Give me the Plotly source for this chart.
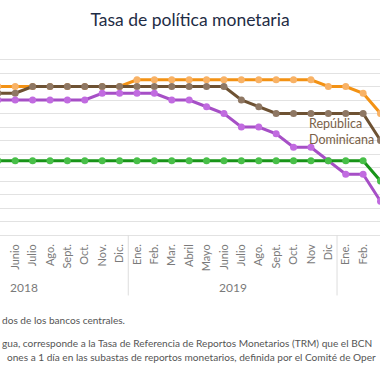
import plotly.graph_objects as go

# Month tick labels (May 2018 .. Mar 2020)
months = ["Mayo", "Junio", "Julio", "Ago.", "Sept.", "Oct.", "Nov.", "Dic.",
          "Ene.", "Feb.", "Mar.", "Abril", "Mayo", "Junio", "Julio", "Ago.", "Sept.", "Oct.", "Nov", "Dic",
          "Ene.", "Feb.", "Mar."]
years = ["2018", "2019"]
year_centers = [1.5, 13.5]      # centre month index of each year
year_bounds = [7.5, 19.5]       # separators between years

honduras = [5.5, 5.5, 5.5, 5.5, 5.5, 5.5, 5.5, 5.5,
            5.75, 5.75, 5.75, 5.75, 5.75, 5.75, 5.75, 5.75, 5.75, 5.75, 5.75, 5.5,
            5.5, 5.25, 4.5]
rep_dominicana = [5.25, 5.25, 5.5, 5.5, 5.5, 5.5, 5.5, 5.5,
                  5.5, 5.5, 5.5, 5.5, 5.5, 5.5, 5.0, 4.75, 4.5, 4.5, 4.5, 4.5,
                  4.5, 4.5, 3.5]
costa_rica = [5.0, 5.0, 5.0, 5.0, 5.0, 5.0, 5.25, 5.25,
              5.25, 5.25, 5.0, 5.0, 4.75, 4.5, 4.0, 4.0, 3.75, 3.25, 3.25, 2.75,
              2.25, 2.25, 1.25]
guatemala = [2.75] * 22 + [2.0]

x = list(range(len(months)))

series = [
    ("Honduras", honduras, "#F39214", "#F8B266"),
    ("República Dominicana", rep_dominicana, "#6E5233", "#8E7763"),
    ("Costa Rica", costa_rica, "#A64FC6", "#C16BE0"),
    ("Guatemala", guatemala, "#189418", "#48BF48"),
]

fig = go.Figure()
for name, vals, lc, mc in series:
    fig.add_trace(go.Scatter(
        x=x, y=vals, mode="lines+markers", name=name,
        line=dict(color=lc, width=3),
        marker=dict(color=mc, size=7, line=dict(width=0)),
    ))

font = "Lato"
fig.update_layout(
    width=380, height=380,
    margin=dict(l=0, r=0, t=46, b=145),
    paper_bgcolor="white", plot_bgcolor="white",
    showlegend=False,
    title=dict(text="Tasa de política monetaria", x=0.5, xanchor="center",
               y=1 - 20 / 380, yanchor="middle", yref="container",
               font=dict(family=font, size=17.5, color="#1E2C45")),
    xaxis=dict(range=[0.126, 21.97], tickvals=x, ticktext=months, tickangle=-90,
               showgrid=False, zeroline=False, showline=False, ticks="",
               tickfont=dict(family=font, size=11, color="#7A7A7A"),
               ticklabelstandoff=6),
    yaxis=dict(range=[0, 7], dtick=0.5, showgrid=True, gridcolor="#E2E2E2", gridwidth=1,
               zeroline=True, zerolinecolor="#E2E2E2", zerolinewidth=1,
               showticklabels=False, showline=False, ticks=""),
)

for yr, xc in zip(years, year_centers):
    fig.add_annotation(x=xc, xref="x", y=0, yref="paper", yshift=-52, yanchor="middle",
                       text=yr, showarrow=False,
                       font=dict(family=font, size=12, color="#7A7A7A"))
for xb in year_bounds:
    fig.add_shape(type="line", xref="x", yref="paper", x0=xb, x1=xb, y0=0, y1=-0.32,
                  line=dict(color="#DDDDDD", width=1))

fig.add_annotation(x=17.8, xref="x", y=3.85, yref="y", xanchor="left", yanchor="middle",
                   align="left", text="República<br>Dominicana", showarrow=False,
                   font=dict(family=font, size=12.5, color="#7A6148"))

notes = [
    ("dos de los bancos centrales.", -85, 0),
    ("gua, corresponde a la Tasa de Referencia de Reportos Monetarios (TRM) que el BCN", -108, 0),
    ("ones a 1 día en las subastas de reportos monetarios, definida por el Comité de Oper", -122, 5),
]
for txt, ys, xs in notes:
    fig.add_annotation(x=0, xref="paper", y=0, yref="paper", xanchor="left", yanchor="middle",
                       xshift=xs, yshift=ys, text=txt, showarrow=False, align="left",
                       font=dict(family=font, size=10.1, color="#555555"))

fig.write_html("out.html", config={"displayModeBar": False},
               post_script="document.body.style.margin='0';")
